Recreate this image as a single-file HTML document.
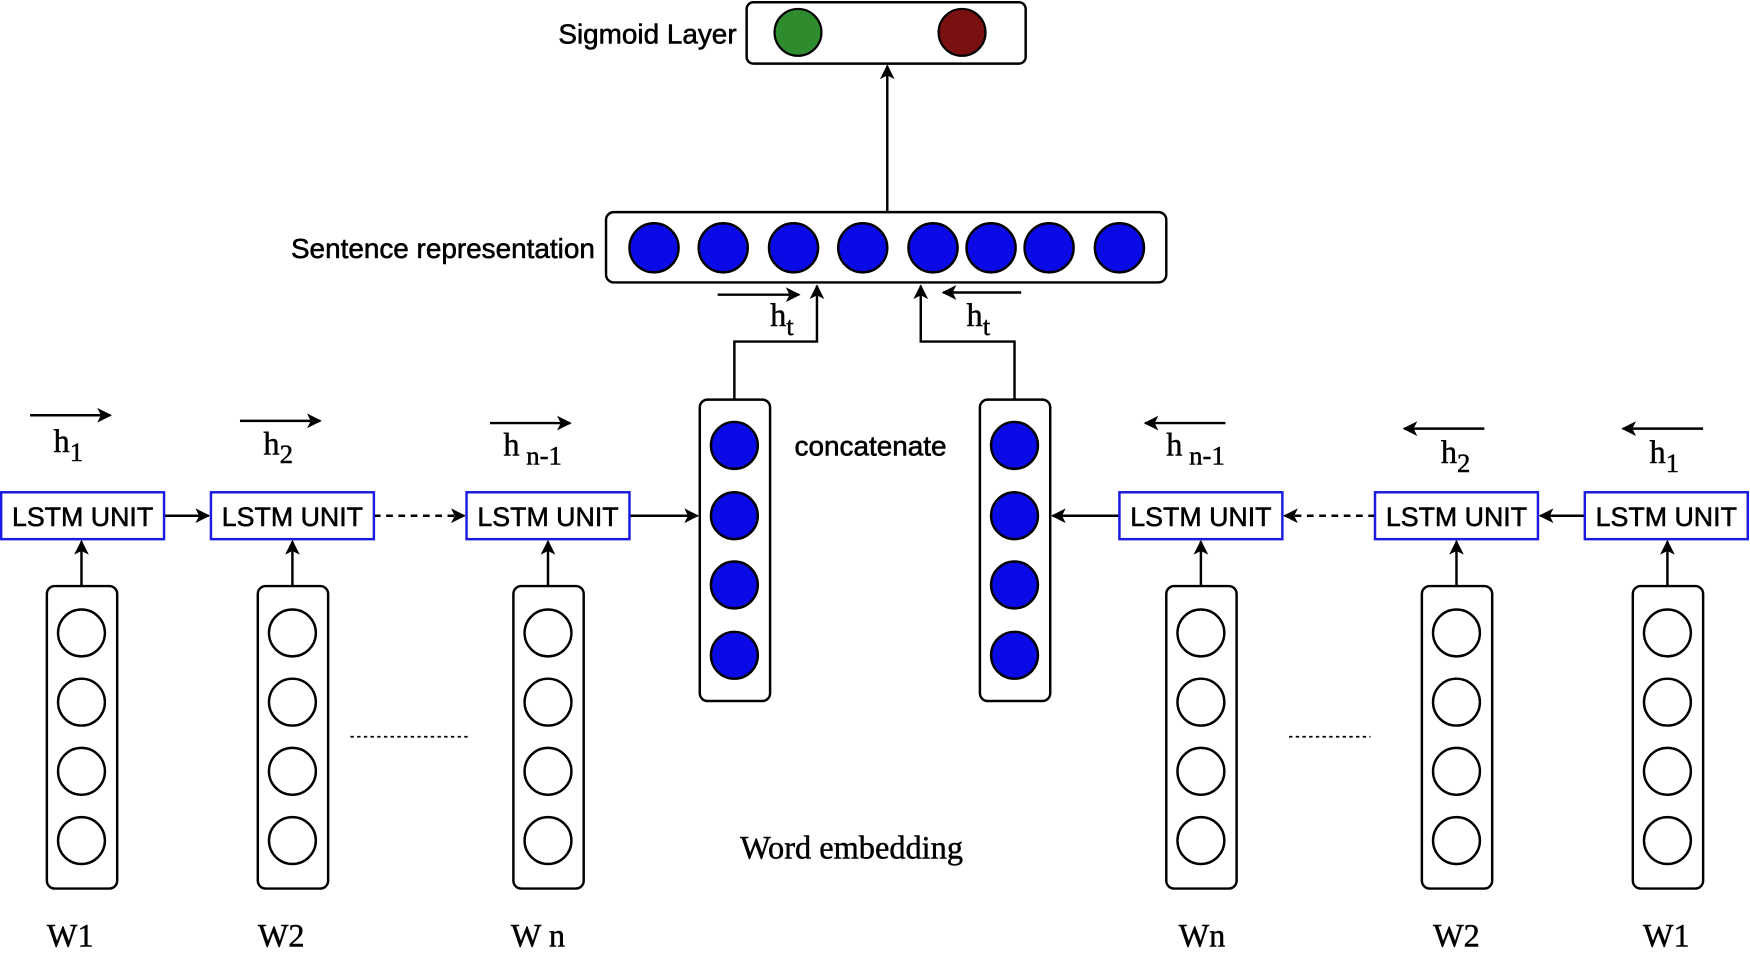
<!DOCTYPE html>
<html><head><meta charset="utf-8"><style>
html,body{margin:0;padding:0;background:#fff;width:1750px;height:960px;overflow:hidden}
svg{display:block}
.s{font-family:"Liberation Sans",sans-serif}
.r{font-family:"Liberation Serif",serif}
</style></head><body>
<svg width="1750" height="960" viewBox="0 0 1568 860" preserveAspectRatio="none" xmlns="http://www.w3.org/2000/svg">
<defs>
<marker id="a" viewBox="0 0 10 10" refX="9" refY="5" markerWidth="6" markerHeight="6" orient="auto-start-reverse"><path d="M0,0 L10,5 L0,10 L2.5,5 z" fill="#000"/></marker>
</defs>
<g stroke="#000" stroke-width="2.2" fill="none">
<rect x="669" y="2" width="250" height="55" rx="6"/>
<line x1="795" y1="190" x2="795" y2="59" marker-end="url(#a)"/>
<rect x="543" y="190" width="502" height="63" rx="7"/>
<rect x="627" y="358" width="63" height="270" rx="7"/>
<rect x="878" y="358" width="63" height="270" rx="7"/>
<polyline points="658,358 658,306 732,306 732,256" marker-end="url(#a)"/>
<polyline points="909,358 909,306 825,306 825,256" marker-end="url(#a)"/>
<line x1="643" y1="264" x2="716" y2="264" marker-end="url(#a)"/>
<line x1="915" y1="262" x2="845" y2="262" marker-end="url(#a)"/>
<line x1="27" y1="372" x2="99" y2="372" marker-end="url(#a)"/>
<line x1="215" y1="377" x2="287" y2="377" marker-end="url(#a)"/>
<line x1="439" y1="379" x2="511" y2="379" marker-end="url(#a)"/>
<line x1="1098" y1="379" x2="1026" y2="379" marker-end="url(#a)"/>
<line x1="1330" y1="384" x2="1258" y2="384" marker-end="url(#a)"/>
<line x1="1526" y1="384" x2="1454" y2="384" marker-end="url(#a)"/>
<line x1="147" y1="462" x2="187" y2="462" marker-end="url(#a)"/>
<line x1="335" y1="462" x2="416" y2="462" stroke-dasharray="6,5" marker-end="url(#a)"/>
<line x1="564" y1="462" x2="625" y2="462" marker-end="url(#a)"/>
<line x1="1003" y1="462" x2="943" y2="462" marker-end="url(#a)"/>
<line x1="1232" y1="462" x2="1151" y2="462" stroke-dasharray="6,5" marker-end="url(#a)"/>
<line x1="1420" y1="462" x2="1380" y2="462" marker-end="url(#a)"/>
<line x1="314" y1="660" x2="420" y2="660" stroke-dasharray="3,3" stroke-width="1.5"/>
<line x1="1155" y1="660" x2="1228" y2="660" stroke-dasharray="3,3" stroke-width="1.5"/>
</g>
<g stroke="#1a1ae0" stroke-width="2.2" fill="#fff">
<rect x="1" y="441" width="146" height="42"/>
<rect x="189" y="441" width="146" height="42"/>
<rect x="418" y="441" width="146" height="42"/>
<rect x="1003" y="441" width="146" height="42"/>
<rect x="1232" y="441" width="146" height="42"/>
<rect x="1420" y="441" width="146" height="42"/>
</g>
<g class="s" font-size="24" text-anchor="middle" fill="#000" stroke="#000" stroke-width="0.5">
<text x="74" y="471">LSTM UNIT</text>
<text x="262" y="471">LSTM UNIT</text>
<text x="491" y="471">LSTM UNIT</text>
<text x="1076" y="471">LSTM UNIT</text>
<text x="1305" y="471">LSTM UNIT</text>
<text x="1493" y="471">LSTM UNIT</text>
</g>
<g stroke="#000" stroke-width="2.2" fill="#fff">
<rect x="42" y="525" width="63" height="271" rx="7"/>
<rect x="231" y="525" width="63" height="271" rx="7"/>
<rect x="460" y="525" width="63" height="271" rx="7"/>
<rect x="1045" y="525" width="63" height="271" rx="7"/>
<rect x="1274" y="525" width="63" height="271" rx="7"/>
<rect x="1463" y="525" width="63" height="271" rx="7"/>
</g>
<g stroke="#000" stroke-width="2.2" fill="#fff">
<g id="c1"><circle cx="73" cy="567" r="21"/><circle cx="73" cy="629" r="21"/><circle cx="73" cy="691" r="21"/><circle cx="73" cy="753" r="21"/></g>
<use href="#c1" x="189"/><use href="#c1" x="418"/><use href="#c1" x="1003"/><use href="#c1" x="1232"/><use href="#c1" x="1421"/>
</g>
<g stroke="#000" stroke-width="2.2" fill="none">
<line x1="73" y1="525" x2="73" y2="485" marker-end="url(#a)"/>
<line x1="262" y1="525" x2="262" y2="485" marker-end="url(#a)"/>
<line x1="491" y1="525" x2="491" y2="485" marker-end="url(#a)"/>
<line x1="1076" y1="525" x2="1076" y2="485" marker-end="url(#a)"/>
<line x1="1305" y1="525" x2="1305" y2="485" marker-end="url(#a)"/>
<line x1="1494" y1="525" x2="1494" y2="485" marker-end="url(#a)"/>
</g>
<g stroke="#000" stroke-width="2.2" fill="#0a0ae6">
<circle cx="586" cy="222" r="22"/><circle cx="648" cy="222" r="22"/><circle cx="711" cy="222" r="22"/><circle cx="773" cy="222" r="22"/><circle cx="836" cy="222" r="22"/><circle cx="888" cy="222" r="22"/><circle cx="940" cy="222" r="22"/><circle cx="1003" cy="222" r="22"/>
<circle cx="658" cy="399" r="21"/><circle cx="658" cy="462" r="21"/><circle cx="658" cy="524" r="21"/><circle cx="658" cy="587" r="21"/>
<circle cx="909" cy="399" r="21"/><circle cx="909" cy="462" r="21"/><circle cx="909" cy="524" r="21"/><circle cx="909" cy="587" r="21"/>
</g>
<circle cx="715" cy="29" r="21" fill="#2e8b2e" stroke="#000" stroke-width="2"/>
<circle cx="862" cy="29" r="21" fill="#7a1010" stroke="#000" stroke-width="2"/>
<g class="s" font-size="25" fill="#000" stroke="#000" stroke-width="0.5">
<text x="660" y="39" text-anchor="end">Sigmoid Layer</text>
<text x="533" y="231" text-anchor="end">Sentence representation</text>
<text x="780" y="408" text-anchor="middle">concatenate</text>
</g>
<g class="r" font-size="29" fill="#000" stroke="#000" stroke-width="0.4">
<text x="690" y="292">h<tspan font-size="24" dy="8">t</tspan></text>
<text x="866" y="292">h<tspan font-size="24" dy="8">t</tspan></text>
<text x="48" y="405">h<tspan font-size="24" dy="8">1</tspan></text>
<text x="236" y="407">h<tspan font-size="24" dy="8">2</tspan></text>
<text x="451" y="408">h<tspan font-size="24" dy="8"> n-1</tspan></text>
<text x="1045" y="408">h<tspan font-size="24" dy="8"> n-1</tspan></text>
<text x="1291" y="415">h<tspan font-size="24" dy="8">2</tspan></text>
<text x="1478" y="415">h<tspan font-size="24" dy="8">1</tspan></text>
<text x="763" y="769" text-anchor="middle">Word embedding</text>
<g text-anchor="middle">
<text x="63" y="848">W1</text><text x="252" y="848">W2</text><text x="482" y="848">W n</text>
<text x="1077" y="848">Wn</text><text x="1305" y="848">W2</text><text x="1493" y="848">W1</text>
</g>
</g>
</svg>
</body></html>
